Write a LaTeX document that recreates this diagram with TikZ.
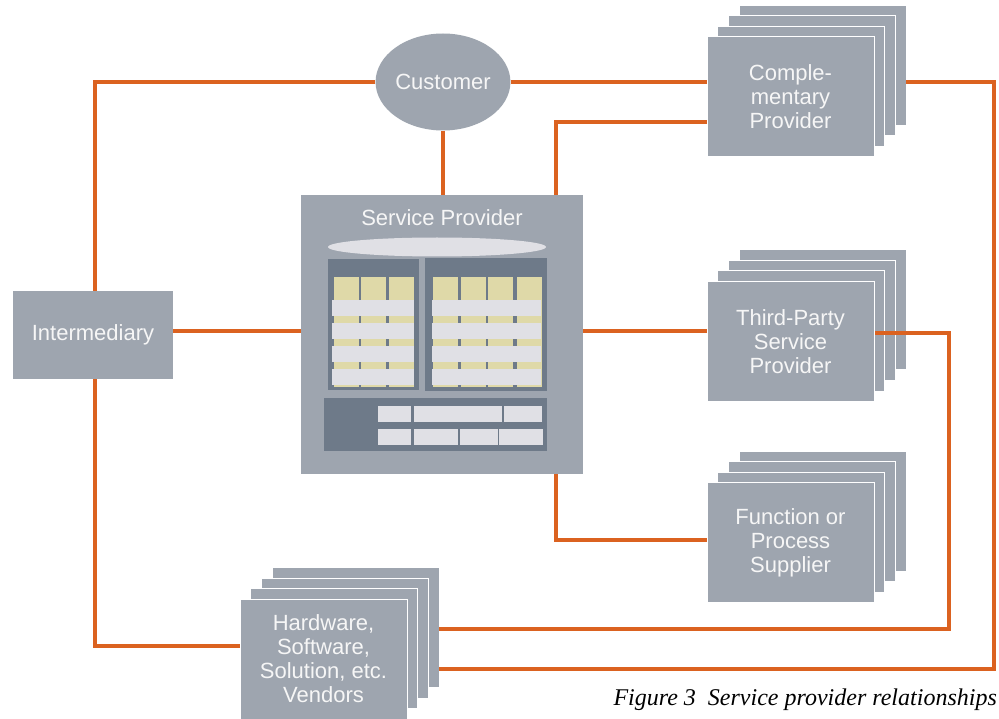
\documentclass[tikz,border=0pt]{standalone}
\usepackage{fontspec}
\setmainfont{Liberation Sans}
\newfontfamily\captionserif{Liberation Serif}
\usetikzlibrary{shapes.geometric}
\definecolor{boxgray}{RGB}{158,165,175}
\definecolor{panelgray}{RGB}{110,122,137}
\definecolor{barlight}{RGB}{224,224,229}
\definecolor{cellyellow}{RGB}{223,217,168}
\definecolor{linkorange}{RGB}{219,98,32}
\definecolor{labelwhite}{RGB}{246,246,246}
\pgfdeclarelayer{paper}
\pgfdeclarelayer{backcards}
\pgfdeclarelayer{links}
\pgfsetlayers{paper,backcards,links,main}
\tikzset{
  card/.style={draw=white, line width=1pt, fill=boxgray, minimum width=167pt,
    minimum height=120pt, inner sep=0pt, outer sep=0pt},
  lbl/.style={text=labelwhite, font=\fontsize{22}{24}\selectfont, align=center},
  link/.style={draw=linkorange, line width=3.5pt},
  panel/.style={fill=panelgray},
  bar/.style={fill=barlight},
  cell/.style={fill=cellyellow},
}
% a stack of four cards: name, centre x, centre y, label
\newcommand\cardstack[4]{%
  \begin{pgfonlayer}{backcards}
    \node[card] (#1-3) at ({#2+32},{#3-31.5}) {};
    \node[card] (#1-2) at ({#2+21.3},{#3-21}) {};
    \node[card] (#1-1) at ({#2+10.7},{#3-10.5}) {};
  \end{pgfonlayer}
  \node[card,lbl] (#1) at (#2,#3) {#4};
}
\begin{document}
\begin{tikzpicture}[x=1pt,y=-1pt]
\begin{pgfonlayer}{paper}
  \fill[white] (0,0) rectangle (999,719);
\end{pgfonlayer}
\useasboundingbox (0,0) rectangle (999,719);

% outer partners
\node[ellipse, fill=boxgray, minimum width=132pt, minimum height=97pt, inner sep=0pt,
  lbl] (cust) at (443,82) {Customer};
\node[fill=boxgray, minimum width=160pt, minimum height=88pt, inner sep=0pt, lbl]
  (inter) at (93,335) {Intermediary};
\cardstack{comp}{790.5}{97}{Comple-\\mentary\\Provider}
\cardstack{tp}{790.5}{341.5}{Third-Party\\Service\\Provider}
\cardstack{fn}{790.5}{542.5}{Function or\\Process\\Supplier}
\cardstack{hw}{323.5}{659}{Hardware,\\Software,\\Solution, etc.\\Vendors}

% service provider block
\node[fill=boxgray, minimum width=282pt, minimum height=279pt, inner sep=0pt]
  (sp) at (442,334.5) {};
\node[lbl] (sptitle) at (442,218) {Service Provider};
\fill[barlight] (437,247) ellipse [x radius=109, y radius=9.5];
% left table
\fill[panel] (328,259) rectangle (419,390);
\foreach \a/\b in {334/359, 361/386, 389/414} \fill[cell] (\a,277) rectangle (\b,387);
\foreach \t/\u in {300/316, 323/339, 346/362, 369/385} \fill[bar] (332,\t) rectangle (414,\u);
% right table
\fill[panel] (425,258) rectangle (547,391);
\foreach \a/\b in {433/458, 461/486, 488/513, 517/542} \fill[cell] (\a,277) rectangle (\b,387);
\foreach \t/\u in {300/316, 323/339, 346/362, 369/385} \fill[bar] (432,\t) rectangle (541,\u);
% lower panel
\fill[panel] (324,398) rectangle (547,451);
\foreach \a/\b in {378/411, 414/502, 504/542} \fill[bar] (\a,406) rectangle (\b,422);
\foreach \a/\b in {378/411, 414/458, 460/498, 499/543} \fill[bar] (\a,429) rectangle (\b,445);

% connectors
\coordinate (hrow) at (0,331);
\coordinate (cA) at (556,122);
\coordinate (fA) at (556,540);
\coordinate (iA) at (95,646);
\coordinate (rA) at (994,82);
\coordinate (rB) at (994,669);
\coordinate (tA) at (949,333);
\coordinate (tB) at (949,629);
\begin{pgfonlayer}{links}
  \draw[link] (cust.west) -| (iA |- inter.north);
  \draw[link] (cust.east) -- (comp.west |- cust.east);
  \draw[link] (cust.south) -- (cust.south |- sp.north);
  \draw[link] (cA |- sp.north) -- (cA) -- (comp.west |- cA);
  \draw[link] (inter.east |- hrow) -- (sp.west |- hrow);
  \draw[link] (sp.east |- hrow) -- (tp.west |- hrow);
  \draw[link] (fA |- sp.south) -- (fA) -- (fn.west |- fA);
  \draw[link] (iA |- inter.south) -- (iA) -- (hw.west |- iA);
  \draw[link] (comp-3.east |- rA) -- (rA) -- (rB) -- (hw-3.east |- rB);
  \draw[link] (tp.east |- tA) -- (tA) -- (tB) -- (hw-3.east |- tB);
\end{pgfonlayer}

% caption
\node[anchor=base east, inner sep=0pt, font=\captionserif\itshape\fontsize{24}{28}\selectfont]
  (caption) at (997,705) {Figure 3\ \ Service provider relationships};
\end{tikzpicture}
\end{document}
